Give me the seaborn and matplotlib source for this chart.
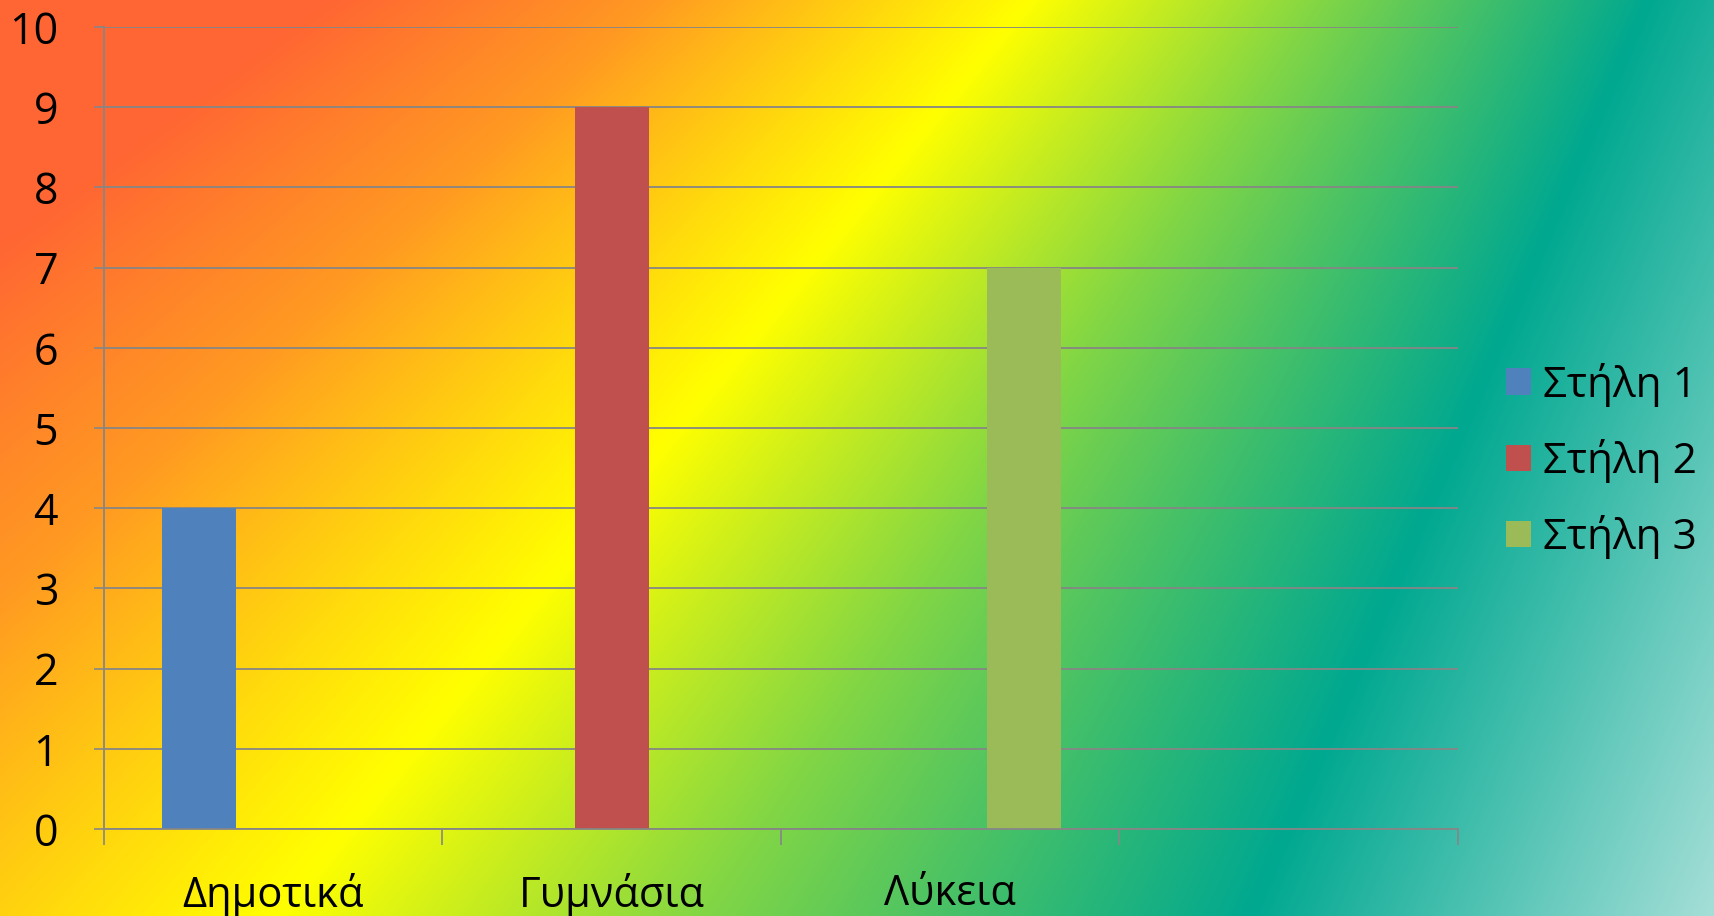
import numpy as np
import pandas as pd
import matplotlib.pyplot as plt
import seaborn as sns
from matplotlib.colors import to_rgb

sns.set_style("ticks")
plt.rcParams['font.family'] = ['Open Sans', 'DejaVu Sans']

categories = ['Δημοτικά', 'Γυμνάσια', 'Λύκεια', ' ']
series_names = ['Στήλη 1', 'Στήλη 2', 'Στήλη 3']
stili_1 = [4, 0, 0, 0]
stili_2 = [0, 9, 0, 0]
stili_3 = [0, 0, 7, 0]
bar_colors = ['#4F81BD', '#C0504D', '#9BBB59']
y_ticks = list(range(0, 11))

df = pd.DataFrame({
    'Κατηγορία': categories * 3,
    'Σειρά': [s for s in series_names for _ in categories],
    'Τιμή': stili_1 + stili_2 + stili_3,
})

W, H = 1715, 916
fig = plt.figure(figsize=(W / 100, H / 100), dpi=100)

# diagonal background gradient (colour, x at top row, x at bottom row)
stops = [
    ('#FF6633', 330, -900),
    ('#FF9922', 650, -350),
    ('#FFFF00', 1030, 276),
    ('#82D645', 1320, 700),
    ('#00A890', 1648, 1251),
    ('#A6DFD8', 2100, 1715),
]
cols = np.array([to_rgb(c) for c, _, _ in stops])
xs_top = np.array([s[1] for s in stops], dtype=float)
xs_bot = np.array([s[2] for s in stops], dtype=float)
img = np.zeros((H, W, 3))
xx = np.arange(W)
for y in range(H):
    xs = xs_top + (xs_bot - xs_top) * y / (H - 1)
    for ch in range(3):
        img[y, :, ch] = np.interp(xx, xs, cols[:, ch])
bg = fig.add_axes([0, 0, 1, 1], zorder=0)
bg.imshow(img, aspect='auto', interpolation='bilinear')
bg.axis('off')

ax = fig.add_axes([104 / W, 87 / H, (1458 - 104) / W, (829 - 27) / H], zorder=1)
ax.patch.set_alpha(0)

sns.barplot(data=df, x='Κατηγορία', y='Τιμή', hue='Σειρά', order=categories,
            hue_order=series_names, palette=bar_colors, saturation=1,
            width=0.656, gap=0, linewidth=0, ax=ax)

ax.set_xlim(-0.5, len(categories) - 0.5)
ax.set_ylim(0, 10)
ax.set_yticks(y_ticks)
ax.set_xlabel('')
ax.set_ylabel('')
ax.yaxis.grid(True, color='#868686', lw=1.3)
ax.set_axisbelow(True)

ax.set_xticks(np.arange(len(categories) + 1) - 0.5, [''] * (len(categories) + 1))
ax.set_xticks(range(len(categories)), categories, minor=True)
ax.tick_params(axis='x', which='major', length=11.5, width=1.2, color='#868686')
ax.tick_params(axis='x', which='minor', length=0, pad=32, labelsize=30, labelcolor='black')
ax.tick_params(axis='y', length=7, width=1.2, color='#868686', pad=26, labelsize=31,
               labelcolor='black')

sns.despine(ax=ax)
for side in ['left', 'bottom']:
    ax.spines[side].set_color('#868686')
    ax.spines[side].set_linewidth(1.3)

sns.move_legend(ax, 'center left', bbox_to_anchor=(1485 / W, 0.497),
                bbox_transform=fig.transFigure, frameon=False, title=None,
                fontsize=30.5, labelcolor='black', handlelength=0.58, handleheight=0.58,
                handletextpad=0.3, labelspacing=0.76, borderpad=0)

fig.savefig('out.png', dpi=100)
